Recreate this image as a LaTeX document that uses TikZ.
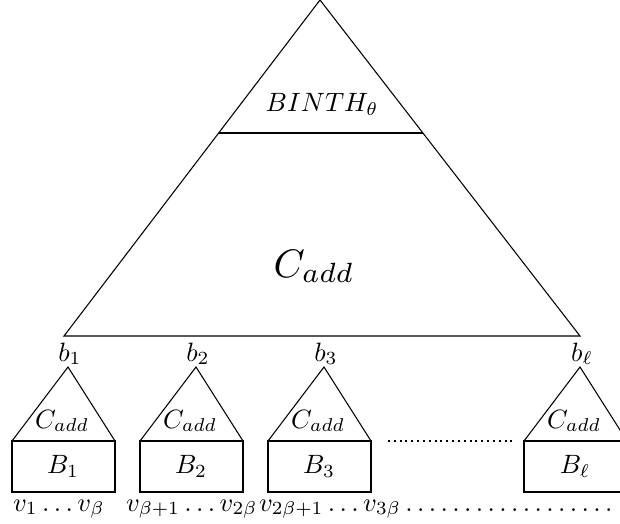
\documentclass[tikz,border=0pt]{standalone}
\usetikzlibrary{calc}
\tikzset{
  lbl/.style={inner sep=0pt, outer sep=0pt, anchor=base},
  dotrow/.style={line width=0.75pt, dash pattern=on 0.75pt off 1.45pt},
}
\begin{document}
\begin{tikzpicture}[x=0.3774pt, y=-0.3774pt, line width=0.4pt]
\useasboundingbox (0,0) rectangle (620,523);
% big triangle
\coordinate (T) at (320,0);
\coordinate (L) at (64,336);
\coordinate (R) at (580,336);
\draw (T) -- (L) -- (R) -- cycle;
\coordinate (HL) at ($(T)!133/336!(L)$);
\coordinate (HR) at ($(T)!133/336!(R)$);
\draw (HL) -- (HR);
\node[lbl] (binth) at (322,112) {$BINTH_\theta$};
\node[lbl, scale=1.5] (cbig) at (314,277) {$C_{add}$};
% small trees
\foreach \i/\x/\lab in {1/12/1, 2/140/2, 3/268/3, 4/524/\ell}{
  \coordinate (a\i) at (\x+56,367);
  \coordinate (bl\i) at (\x,441);
  \coordinate (br\i) at (\x+103,441);
  \coordinate (bb\i) at (\x+103,492);
  \draw (a\i) -- (bl\i) -- (br\i) -- cycle;
  \draw (bl\i) rectangle (bb\i);
  \node[lbl] (b\i) at (\x+58,361) {$b_{\lab}$};
  \node[lbl] (c\i) at (\x+50,428) {$C_{add}$};
  \node (B\i) at (\x+51,466.5) {$B_{\lab}$};
}
\coordinate (d1) at (388,441);
\coordinate (d2) at (512,441);
\draw[dotrow] (d1) -- (d2);
% bottom labels
\node[lbl, anchor=base west] (v1) at (13,511) {$v_1\ldots v_\beta$};
\node[lbl, anchor=base west] (v2) at (126,511) {$v_{\beta+1}\ldots v_{2\beta}$};
\node[lbl, anchor=base west] (v3) at (259,511) {$v_{2\beta+1}\ldots v_{3\beta}\ldots\ldots\ldots\ldots\ldots\ldots$};
\end{tikzpicture}
\end{document}
